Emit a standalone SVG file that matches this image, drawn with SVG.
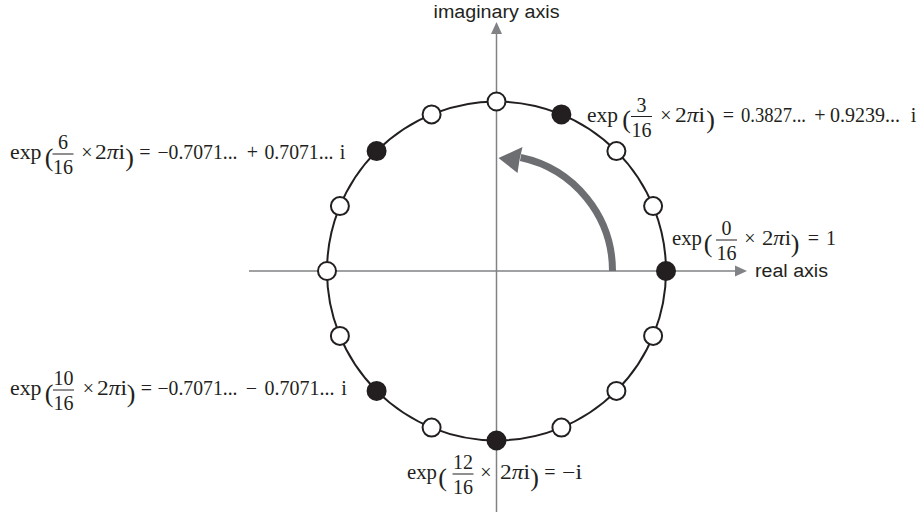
<svg xmlns="http://www.w3.org/2000/svg" width="921" height="517" viewBox="0 0 921 517">
<style>
.ax{font-family:"Liberation Sans",Arial,Helvetica,sans-serif;font-size:18px;fill:#231f20}
.m{font-family:"Liberation Serif","Times New Roman",serif;font-size:20px;fill:#231f20}
.c{text-anchor:middle}
.p{font-family:"Liberation Serif","Times New Roman",serif;font-size:26px;fill:#231f20;text-anchor:middle}
.it{font-style:italic}
.bar{stroke:#231f20;stroke-width:1}
.axis{stroke:#808285;stroke-width:1.5;fill:none}
.ah{fill:#808285}
.open{fill:#fff;stroke:#231f20;stroke-width:2}
.full{fill:#231f20;stroke:#231f20;stroke-width:2}
</style>
<rect width="921" height="517" fill="#fff"/>
<g id="axes">
<line class="axis" x1="496.5" y1="33" x2="496.5" y2="512"/>
<polygon class="ah" points="496.5,22 491,34 502,34"/>
<line class="axis" x1="249" y1="271" x2="736" y2="271"/>
<polygon class="ah" points="747,271 735,265.5 735,276.5"/>
<text class="ax c" x="496.5" y="18" textLength="126" lengthAdjust="spacingAndGlyphs">imaginary axis</text>
<text class="ax" x="755" y="277" textLength="73" lengthAdjust="spacingAndGlyphs">real axis</text>
</g>
<g id="connectors">
<circle cx="496.5" cy="271" r="169.5" fill="none" stroke="#231f20" stroke-width="2"/>
<path d="M612.5 271 A116 116 0 0 0 520.6 157.5" fill="none" stroke="#6d6e71" stroke-width="7"/>
<polygon points="498.5,158 522.5,147 519.5,160 517.5,173" fill="#6d6e71"/>
</g>
<g id="dots">
<circle id="p0" class="full" cx="666" cy="271" r="9"/>
<circle id="p1" class="open" cx="653.1" cy="206.1" r="9"/>
<circle id="p2" class="open" cx="616.4" cy="151.1" r="9"/>
<circle id="p3" class="full" cx="561.4" cy="114.4" r="9"/>
<circle id="p4" class="open" cx="496.5" cy="101.5" r="9"/>
<circle id="p5" class="open" cx="431.6" cy="114.4" r="9"/>
<circle id="p6" class="full" cx="376.6" cy="151.1" r="9"/>
<circle id="p7" class="open" cx="339.9" cy="206.1" r="9"/>
<circle id="p8" class="open" cx="327" cy="271" r="9"/>
<circle id="p9" class="open" cx="339.9" cy="335.9" r="9"/>
<circle id="p10" class="full" cx="376.6" cy="390.9" r="9"/>
<circle id="p11" class="open" cx="431.6" cy="427.6" r="9"/>
<circle id="p12" class="full" cx="496.5" cy="440.5" r="9"/>
<circle id="p13" class="open" cx="561.4" cy="427.6" r="9"/>
<circle id="p14" class="open" cx="616.4" cy="390.9" r="9"/>
<circle id="p15" class="open" cx="653.1" cy="335.9" r="9"/>
</g>
<g id="label3">
<text class="m" x="587" y="121.5" textLength="31" lengthAdjust="spacingAndGlyphs">exp</text>
<text class="p" x="626.5" y="128">(</text>
<text class="m c" x="641.5" y="111.5">3</text>
<line class="bar" x1="631" y1="116.5" x2="652" y2="116.5"/>
<text class="m c" x="641.5" y="136.5">16</text>
<text class="m c" x="666" y="121.5">×</text>
<text class="m" x="675" y="121.5" textLength="30" lengthAdjust="spacingAndGlyphs">2<tspan class="it">π</tspan>i</text>
<text class="p" x="710.5" y="128">)</text>
<text class="m c" x="728.5" y="121.5">=</text>
<text class="m" x="741" y="121.5" textLength="65" lengthAdjust="spacingAndGlyphs">0.3827...</text>
<text class="m c" x="820" y="121.5">+</text>
<text class="m" x="830" y="121.5" textLength="70" lengthAdjust="spacingAndGlyphs">0.9239...</text>
<text class="m c" x="913.5" y="121.5">i</text>
</g>
<g id="label6">
<text class="m" x="10" y="159" textLength="31.5" lengthAdjust="spacingAndGlyphs">exp</text>
<text class="p" x="49" y="165.5">(</text>
<text class="m c" x="63" y="149">6</text>
<line class="bar" x1="52.5" y1="154" x2="73.5" y2="154"/>
<text class="m c" x="63" y="174">16</text>
<text class="m c" x="87" y="159">×</text>
<text class="m" x="95" y="159" textLength="30" lengthAdjust="spacingAndGlyphs">2<tspan class="it">π</tspan>i</text>
<text class="p" x="129.5" y="165.5">)</text>
<text class="m c" x="145" y="159">=</text>
<text class="m" x="157.5" y="159" textLength="80" lengthAdjust="spacingAndGlyphs">−0.7071...</text>
<text class="m c" x="252.5" y="159">+</text>
<text class="m" x="264.5" y="159" textLength="69" lengthAdjust="spacingAndGlyphs">0.7071...</text>
<text class="m c" x="342.5" y="159">i</text>
</g>
<g id="label0">
<text class="m" x="672" y="245" textLength="30" lengthAdjust="spacingAndGlyphs">exp</text>
<text class="p" x="708" y="251.5">(</text>
<text class="m c" x="726.5" y="235">0</text>
<line class="bar" x1="716" y1="240" x2="737" y2="240"/>
<text class="m c" x="726.5" y="260">16</text>
<text class="m c" x="750" y="245">×</text>
<text class="m" x="762" y="245" textLength="29" lengthAdjust="spacingAndGlyphs">2<tspan class="it">π</tspan>i</text>
<text class="p" x="795" y="251.5">)</text>
<text class="m c" x="813.5" y="245">=</text>
<text class="m c" x="831" y="245">1</text>
</g>
<g id="label10">
<text class="m" x="10" y="395" textLength="31.5" lengthAdjust="spacingAndGlyphs">exp</text>
<text class="p" x="49" y="401.5">(</text>
<text class="m c" x="63.5" y="385">10</text>
<line class="bar" x1="53" y1="390" x2="74" y2="390"/>
<text class="m c" x="63.5" y="410">16</text>
<text class="m c" x="88.5" y="395">×</text>
<text class="m" x="97" y="395" textLength="30" lengthAdjust="spacingAndGlyphs">2<tspan class="it">π</tspan>i</text>
<text class="p" x="131" y="401.5">)</text>
<text class="m c" x="146.5" y="395">=</text>
<text class="m" x="157.5" y="395" textLength="80" lengthAdjust="spacingAndGlyphs">−0.7071...</text>
<text class="m c" x="251.5" y="395">−</text>
<text class="m" x="264.5" y="395" textLength="70" lengthAdjust="spacingAndGlyphs">0.7071...</text>
<text class="m c" x="344" y="395">i</text>
</g>
<g id="label12">
<text class="m" x="407" y="479" textLength="30" lengthAdjust="spacingAndGlyphs">exp</text>
<text class="p" x="442.5" y="485.5">(</text>
<text class="m c" x="463" y="469">12</text>
<line class="bar" x1="452.5" y1="474" x2="473.5" y2="474"/>
<text class="m c" x="463" y="494">16</text>
<text class="m c" x="486" y="479">×</text>
<text class="m" x="500" y="479" textLength="30" lengthAdjust="spacingAndGlyphs">2<tspan class="it">π</tspan>i</text>
<text class="p" x="534.5" y="485.5">)</text>
<text class="m c" x="550" y="479">=</text>
<text class="m" x="562" y="479" textLength="20" lengthAdjust="spacingAndGlyphs">−i</text>
</g>
</svg>
